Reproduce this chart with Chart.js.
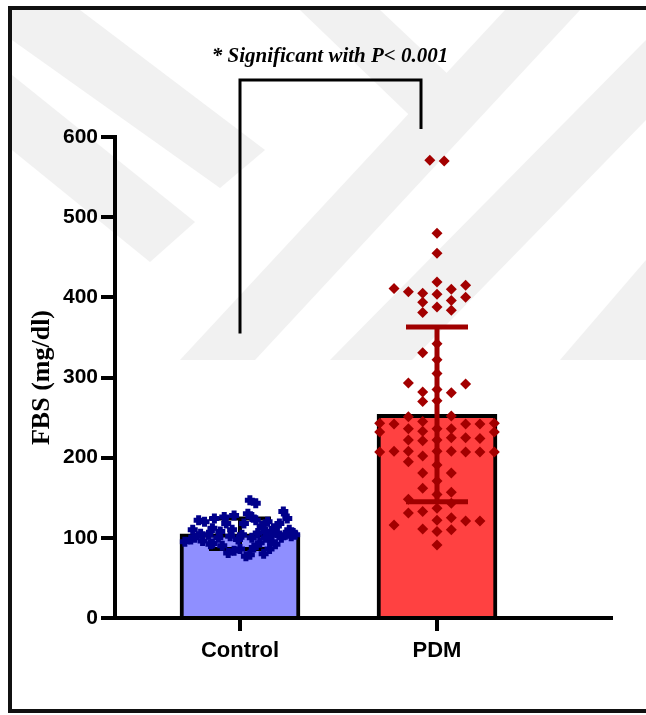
<!DOCTYPE html>
<html lang="en">
<head>
<meta charset="UTF-8">
<title>FBS Control vs PDM</title>
<script src="https://cdn.jsdelivr.net/npm/chart.js@4"></script>
<style>
  html, body { margin: 0; padding: 0; background: #fff; }
  #wrap { width: 646px; height: 715px; }
</style>
</head>
<body>
<div id="wrap"><canvas id="chart"></canvas></div>
<script>

const groups = ['Control', 'PDM'];
const groupX = [1, 2];
const means = [105, 254];
const sds = [19, 109];
const yTicks = [0, 100, 200, 300, 400, 500, 600];
const note = '* Significant with P< 0.001';

// control: FBS values and horizontal jitter (in category units)
const controlValues = [95, 98, 100, 122, 96, 120, 104, 92, 112, 124, 100, 108, 90, 126, 81, 102, 110, 128, 98, 86,
  104, 118, 77, 130, 147, 100, 88, 122, 143, 106, 94, 115, 80, 108, 120, 98, 104, 112, 92, 106,
  118, 100, 133, 104, 124, 110, 102, 106, 104, 110, 105, 93, 118, 126, 100, 84, 86, 79];
const controlJitter = [-0.28, -0.25, -0.23, -0.21, -0.19, -0.18, -0.16, -0.15, -0.14, -0.13, -0.11, -0.10, -0.09, -0.08, -0.06, -0.05, -0.04, -0.03, -0.01, 0,
  0.01, 0.02, 0.03, 0.04, 0.05, 0.06, 0.07, 0.08, 0.08, 0.09, 0.10, 0.11, 0.12, 0.13, 0.14, 0.15, 0.16, 0.17, 0.18, 0.19,
  0.20, 0.21, 0.22, 0.23, 0.24, 0.25, 0.26, 0.27, 0.28, -0.24, -0.20, -0.14, -0.07, 0.06, 0.13, -0.03, 0.15, 0.05];

// PDM: FBS values and the column each one sits in
const pdmValues = [243, 232, 207,
  411, 242, 208, 116,
  407, 293, 251, 236, 222, 208, 195, 148, 131,
  405, 394, 381, 331, 282, 270, 245, 233, 221, 202, 181, 162, 133, 111,
  480, 455, 419, 404, 388, 342, 322, 305, 285, 271, 236, 222, 208, 191, 171, 154, 137, 122, 108, 91,
  410, 396, 384, 281, 252, 236, 225, 208, 181, 157, 143, 125, 110,
  415, 400, 292, 242, 225, 207, 121,
  242, 224, 207, 121,
  243, 232, 207,
  571, 570];
const pdmColumns = [-4, -4, -4,
  -3, -3, -3, -3,
  -2, -2, -2, -2, -2, -2, -2, -2, -2,
  -1, -1, -1, -1, -1, -1, -1, -1, -1, -1, -1, -1, -1, -1,
  0, 0, 0, 0, 0, 0, 0, 0, 0, 0, 0, 0, 0, 0, 0, 0, 0, 0, 0, 0,
  1, 1, 1, 1, 1, 1, 1, 1, 1, 1, 1, 1, 1,
  2, 2, 2, 2, 2, 2, 2,
  3, 3, 3, 3,
  4, 4, 4,
  -0.5, 0.5];
const columnStep = 0.0727;

const controlPoints = controlValues.map((v, i) => ({ x: groupX[0] + controlJitter[i], y: v }));
const pdmPoints = pdmValues.map((v, i) => ({ x: groupX[1] + pdmColumns[i] * columnStep, y: v }));

function drawErrorBar(chart, i, color, width) {
  const { ctx, scales: { x, y } } = chart;
  const cx = x.getPixelForValue(groupX[i]);
  const top = y.getPixelForValue(means[i] + sds[i]);
  const bot = y.getPixelForValue(means[i] - sds[i]);
  const half = 31;
  ctx.save();
  ctx.strokeStyle = color;
  ctx.lineWidth = width;
  ctx.beginPath();
  ctx.moveTo(cx, top); ctx.lineTo(cx, bot);
  ctx.moveTo(cx - half, top); ctx.lineTo(cx + half, top);
  ctx.moveTo(cx - half, bot); ctx.lineTo(cx + half, bot);
  ctx.stroke();
  ctx.restore();
}

const backdrop = {
  id: 'backdrop',
  beforeDraw(chart) {
    const ctx = chart.ctx;
    ctx.save();
    ctx.fillStyle = '#fff';
    ctx.fillRect(0, 0, chart.width, chart.height);
    // faint watermark bands
    ctx.fillStyle = '#f1f1f1';
    const shapes = [
      [[12, 10], [80, 10], [265, 150], [220, 188], [12, 40]],
      [[12, 75], [12, 150], [150, 262], [195, 222]],
      [[180, 360], [255, 360], [580, 10], [505, 10]],
      [[330, 360], [412, 360], [646, 120], [646, 40]],
      [[560, 360], [646, 360], [646, 260]],
      [[300, 10], [380, 10], [470, 95], [430, 135]]
    ];
    shapes.forEach(s => {
      ctx.beginPath();
      ctx.moveTo(s[0][0], s[0][1]);
      s.slice(1).forEach(p => ctx.lineTo(p[0], p[1]));
      ctx.closePath();
      ctx.fill();
    });
    // frame
    ctx.strokeStyle = '#111';
    ctx.lineWidth = 4;
    ctx.strokeRect(10, 8, 680, 703);
    ctx.restore();
  },
  afterDatasetDraw(chart, args) {
    if (args.meta.type === 'bar') drawErrorBar(chart, 0, '#000', 4);
  },
  afterDatasetsDraw(chart) {
    drawErrorBar(chart, 1, '#a00000', 5);
  },
  afterDraw(chart) {
    const { ctx, scales: { x, y } } = chart;
    const x1 = x.getPixelForValue(groupX[0]);
    const x2 = x.getPixelForValue(groupX[1]) - 16;
    ctx.save();
    ctx.strokeStyle = '#000';
    ctx.lineWidth = 3;
    ctx.beginPath();
    ctx.moveTo(x1, y.getPixelForValue(355));
    ctx.lineTo(x1, 80);
    ctx.lineTo(x2, 80);
    ctx.lineTo(x2, y.getPixelForValue(610));
    ctx.stroke();
    ctx.fillStyle = '#000';
    ctx.font = 'italic bold 21px "Liberation Serif", "Times New Roman", serif';
    ctx.textAlign = 'center';
    ctx.textBaseline = 'middle';
    ctx.fillText(note, 330, 57);
    ctx.restore();
  }
};

new Chart(document.getElementById('chart'), {
  data: {
    datasets: [
      {
        type: 'bar',
        data: groupX.map((gx, i) => ({ x: gx, y: means[i] })),
        backgroundColor: ['#8f8fff', '#ff4141'],
        borderColor: '#000',
        borderWidth: 4,
        borderSkipped: 'bottom',
        barThickness: 120,
        order: 3
      },
      {
        type: 'scatter',
        data: controlPoints,
        pointStyle: 'cross',
        pointRadius: 5,
        borderColor: '#00008b',
        pointBorderWidth: 5,
        order: 2
      },
      {
        type: 'scatter',
        data: pdmPoints,
        pointStyle: 'rectRot',
        pointRadius: 5.5,
        backgroundColor: '#a30000',
        pointBorderWidth: 0,
        borderWidth: 0,
        order: 1
      }
    ]
  },
  options: {
    responsive: true,
    maintainAspectRatio: false,
    animation: false,
    layout: { padding: { left: 0, right: 35, top: 137, bottom: 0 } },
    plugins: { legend: { display: false }, tooltip: { enabled: false } },
    scales: {
      x: {
        type: 'linear',
        offset: false,
        min: 1 - 125 / 197,
        max: 2 + 174 / 197,
        afterBuildTicks: scale => { scale.ticks = groupX.map(v => ({ value: v })); },
        afterFit: scale => { scale.height = 97; },
        grid: { offset: false, drawOnChartArea: false, drawTicks: true, tickLength: 13, color: '#000', lineWidth: 4 },
        border: { display: true, color: '#000', width: 4 },
        ticks: {
          padding: 7,
          color: '#000',
          font: { family: '"Liberation Sans", Arial, sans-serif', size: 22, weight: 'bold' },
          callback: v => groups[groupX.indexOf(v)] || ''
        }
      },
      y: {
        min: 0,
        max: 600,
        afterBuildTicks: scale => { scale.ticks = yTicks.map(v => ({ value: v })); },
        afterFit: scale => { scale.width = 115; },
        grid: { drawOnChartArea: false, drawTicks: true, tickLength: 14, color: '#000', lineWidth: 4 },
        border: { display: true, color: '#000', width: 4 },
        ticks: {
          padding: 3,
          color: '#000',
          font: { family: '"Liberation Sans", Arial, sans-serif', size: 21, weight: 'bold' }
        },
        title: {
          display: true,
          text: 'FBS (mg/dl)',
          color: '#000',
          padding: { top: 27, bottom: 0 },
          font: { family: '"Liberation Serif", "Times New Roman", serif', size: 26, weight: 'bold' }
        }
      }
    }
  },
  plugins: [backdrop]
});
</script>
</body>
</html>
